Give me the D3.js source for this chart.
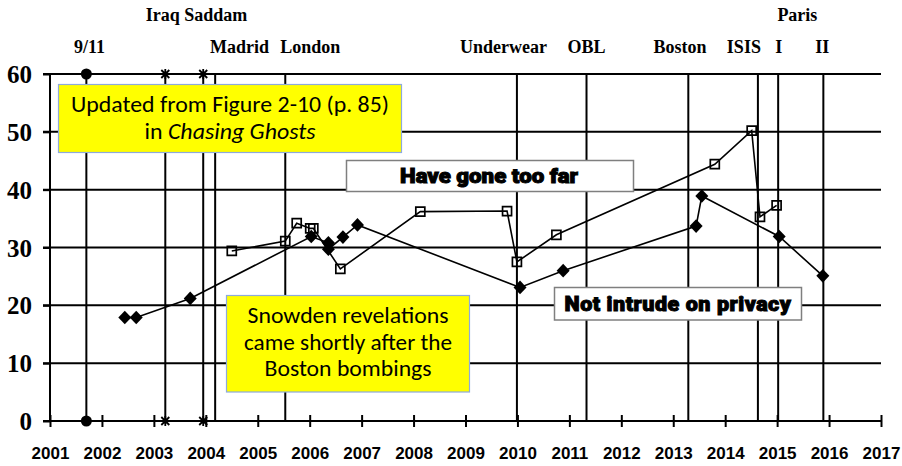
<!DOCTYPE html>
<html>
<head>
<meta charset="utf-8">
<script src="https://cdn.jsdelivr.net/npm/d3@7"></script>
<style>
  body { margin: 0; background: #fff; }
  svg { display: block; }
</style>
</head>
<body>
<svg id="chart" width="902" height="466"></svg>
<script>
// data
var years = d3.range(2001, 2018);
var yTicks = [0, 10, 20, 30, 40, 50, 60];

var eventNames = ["9/11", "Iraq", "Saddam", "Madrid", "London", "Underwear", "OBL", "Boston", "ISIS", "Paris I", "Paris II"];
var eventDates = [2001.70, 2003.22, 2003.95, 2004.18, 2005.53, 2009.99, 2011.33, 2013.29, 2014.63, 2015.02, 2015.89];
var eventMarkers = ["circle", "star", "star", "", "", "", "", "", "", "", ""];

var labelText = ["Iraq Saddam", "Paris", "9/11", "Madrid", "London", "Underwear", "OBL", "Boston", "ISIS", "I", "II"];
var labelYear = [2003.82, 2015.39, 2001.76, 2004.65, 2006.01, 2009.73, 2011.33, 2013.13, 2014.36, 2015.03, 2015.87];
var labelRow = [0, 0, 1, 1, 1, 1, 1, 1, 1, 1, 1];

var tooFarDates = [2004.50, 2005.53, 2005.75, 2006.01, 2006.07, 2006.59, 2008.13, 2009.80, 2009.99, 2010.75, 2013.80, 2014.51, 2014.67, 2014.99];
var tooFarValues = [29.4, 31.1, 34.2, 33.3, 33.3, 26.3, 36.2, 36.3, 27.5, 32.2, 44.4, 50.2, 35.3, 37.3];

var privacyDates = [2002.44, 2002.66, 2003.70, 2006.03, 2006.36, 2006.36, 2006.64, 2006.92, 2010.05, 2010.88, 2013.44, 2013.55, 2015.04, 2015.88];
var privacyValues = [17.9, 17.9, 21.2, 31.9, 30.8, 29.7, 31.8, 33.9, 23.1, 26.0, 33.7, 38.9, 31.9, 25.1];

var svg = d3.select("#chart");

var x = d3.scaleLinear().domain([2001, 2017]).range([50, 881]);
var y = d3.scaleLinear().domain([0, 60]).range([421, 74]);

var tooFar = tooFarDates.map(function (d, i) { return {date: d, value: tooFarValues[i]}; });
var privacy = privacyDates.map(function (d, i) { return {date: d, value: privacyValues[i]}; });

// horizontal grid lines
svg.append("g")
    .selectAll("line")
    .data(yTicks)
    .enter().append("line")
    .attr("x1", 43)
    .attr("x2", x(2017))
    .attr("y1", function (d) { return y(d); })
    .attr("y2", function (d) { return y(d); })
    .attr("stroke", "#000")
    .attr("stroke-width", 2);

// y axis
var yAxis = svg.append("g")
    .attr("transform", "translate(" + x(2001) + ",0)")
    .call(d3.axisLeft(y).tickValues(yTicks).tickSize(7).tickFormat(d3.format("d")));
yAxis.select(".domain").attr("stroke", "#000").attr("stroke-width", 2).attr("d", "M0," + y(60) + "V" + y(0));
yAxis.selectAll(".tick line").attr("stroke-width", 2);
yAxis.selectAll(".tick text")
    .attr("x", -18)
    .attr("dy", "0.34em")
    .attr("font-family", "'Liberation Serif', 'Times New Roman', serif")
    .attr("font-weight", "bold")
    .attr("font-size", 25)
    .attr("fill", "#000");

// x axis
var xAxis = svg.append("g")
    .attr("transform", "translate(0," + y(0) + ")")
    .call(d3.axisBottom(x).tickValues(years).tickSize(6).tickFormat(d3.format("d")));
xAxis.select(".domain").remove();
xAxis.selectAll(".tick line").attr("y1", -6).attr("y2", 6).attr("stroke-width", 2);
xAxis.selectAll(".tick text")
    .attr("y", 38)
    .attr("dy", 0)
    .attr("font-family", "'Liberation Sans', Arial, sans-serif")
    .attr("font-weight", "bold")
    .attr("font-size", 17)
    .attr("fill", "#000");

// event lines
svg.append("g")
    .selectAll("line")
    .data(eventDates)
    .enter().append("line")
    .attr("x1", function (d) { return x(d); })
    .attr("x2", function (d) { return x(d); })
    .attr("y1", y(60))
    .attr("y2", y(0))
    .attr("stroke", "#000")
    .attr("stroke-width", 2);

// event markers at top and bottom
var starSymbol = {
  draw: function (context, size) {
    var r = Math.sqrt(size) / 2;
    context.moveTo(-r, -r); context.lineTo(r, r);
    context.moveTo(r, -r); context.lineTo(-r, r);
    context.moveTo(0, -r * 1.25); context.lineTo(0, r * 1.25);
  }
};
var eventPts = [];
eventDates.forEach(function (d, i) {
  if (eventMarkers[i]) {
    eventPts.push({date: d, value: 60, type: eventMarkers[i]});
    eventPts.push({date: d, value: 0, type: eventMarkers[i]});
  }
});
svg.append("g")
    .selectAll("path")
    .data(eventPts)
    .enter().append("path")
    .attr("transform", function (d) { return "translate(" + x(d.date) + "," + y(d.value) + ")"; })
    .attr("d", function (d) {
      return d.type === "circle" ? d3.symbol(d3.symbolCircle, 95)() : d3.symbol(starSymbol, 64)();
    })
    .attr("fill", function (d) { return d.type === "circle" ? "#000" : "none"; })
    .attr("stroke", "#000")
    .attr("stroke-width", function (d) { return d.type === "circle" ? 0 : 1.8; });

// event labels
svg.append("g")
    .selectAll("text")
    .data(labelText)
    .enter().append("text")
    .attr("x", function (d, i) { return x(labelYear[i]); })
    .attr("y", function (d, i) { return labelRow[i] === 0 ? 21 : 53; })
    .attr("text-anchor", "middle")
    .attr("font-family", "'Liberation Serif', 'Times New Roman', serif")
    .attr("font-weight", "bold")
    .attr("font-size", 18)
    .attr("fill", "#000")
    .text(function (d) { return d; });

// series lines
var line = d3.line()
    .x(function (d) { return x(d.date); })
    .y(function (d) { return y(d.value); });

svg.append("path")
    .datum(tooFar)
    .attr("d", line)
    .attr("fill", "none")
    .attr("stroke", "#000")
    .attr("stroke-width", 1.6);

svg.append("path")
    .datum(privacy)
    .attr("d", line)
    .attr("fill", "none")
    .attr("stroke", "#000")
    .attr("stroke-width", 1.6);

// markers
svg.append("g")
    .selectAll("path")
    .data(tooFar)
    .enter().append("path")
    .attr("transform", function (d) { return "translate(" + x(d.date) + "," + y(d.value) + ")"; })
    .attr("d", d3.symbol(d3.symbolSquare, 81))
    .attr("fill", "none")
    .attr("stroke", "#000")
    .attr("stroke-width", 1.7);

var diamondSymbol = {
  draw: function (context, size) {
    var r = Math.sqrt(size) / 2;
    context.moveTo(0, -r * 1.05);
    context.lineTo(r, 0);
    context.lineTo(0, r * 1.05);
    context.lineTo(-r, 0);
    context.closePath();
  }
};
svg.append("g")
    .selectAll("path")
    .data(privacy)
    .enter().append("path")
    .attr("transform", function (d) { return "translate(" + x(d.date) + "," + y(d.value) + ")"; })
    .attr("d", d3.symbol(diamondSymbol, 169))
    .attr("fill", "#000");

// annotation boxes
function box(x0, y0, x1, y1, fill, stroke, sw) {
  svg.append("rect")
      .attr("x", x0).attr("y", y0)
      .attr("width", x1 - x0).attr("height", y1 - y0)
      .attr("fill", fill)
      .attr("stroke", stroke)
      .attr("stroke-width", sw);
}

function fitText(t, len) {
  var w = t.node().getComputedTextLength();
  if (w > 0) t.attr("textLength", len).attr("lengthAdjust", "spacingAndGlyphs");
  return t;
}

var calibri = "Carlito, Calibri, 'Open Sans', sans-serif";
var heavy = "'Arial Black', Roboto, 'DejaVu Sans', sans-serif";

// Updated from ...
box(58.5, 84.5, 401.5, 152.5, "#ffff00", "#8eaadb", 1.2);
fitText(svg.append("text")
    .attr("x", 230).attr("y", 112)
    .attr("text-anchor", "middle")
    .attr("font-family", calibri)
    .attr("font-size", 22)
    .text("Updated from Figure 2-10 (p. 85)"), 318);
var t2 = svg.append("text")
    .attr("x", 230).attr("y", 139)
    .attr("text-anchor", "middle")
    .attr("font-family", calibri)
    .attr("font-size", 22);
t2.append("tspan").text("in ");
t2.append("tspan").attr("font-style", "italic").text("Chasing Ghosts");
fitText(t2, 171);

// Snowden
box(226.5, 295.5, 469.5, 392, "#ffff00", "#8eaadb", 1.2);
var snowLines = ["Snowden revelations", "came shortly after the", "Boston bombings"];
var snowLen = [201, 208, 167];
snowLines.forEach(function (s, i) {
  fitText(svg.append("text")
      .attr("x", 348).attr("y", 323 + i * 26.7)
      .attr("text-anchor", "middle")
      .attr("font-family", calibri)
      .attr("font-size", 22)
      .text(s), snowLen[i]);
});

// series labels
box(346.5, 160.5, 633.5, 191.5, "#fff", "#7f7f7f", 1.5);
fitText(svg.append("text")
    .attr("x", 489).attr("y", 183)
    .attr("text-anchor", "middle")
    .attr("font-family", heavy)
    .attr("font-weight", 900)
    .attr("font-size", 20)
    .attr("stroke", "#000")
    .attr("stroke-width", 1)
    .text("Have gone too far"), 178);

box(554.5, 287.5, 801.5, 320, "#fff", "#7f7f7f", 1.5);
fitText(svg.append("text")
    .attr("x", 678).attr("y", 310.5)
    .attr("text-anchor", "middle")
    .attr("font-family", heavy)
    .attr("font-weight", 900)
    .attr("font-size", 20)
    .attr("stroke", "#000")
    .attr("stroke-width", 1)
    .attr("letter-spacing", 0.5)
    .text("Not intrude on privacy"), 227);
</script>
</body>
</html>
